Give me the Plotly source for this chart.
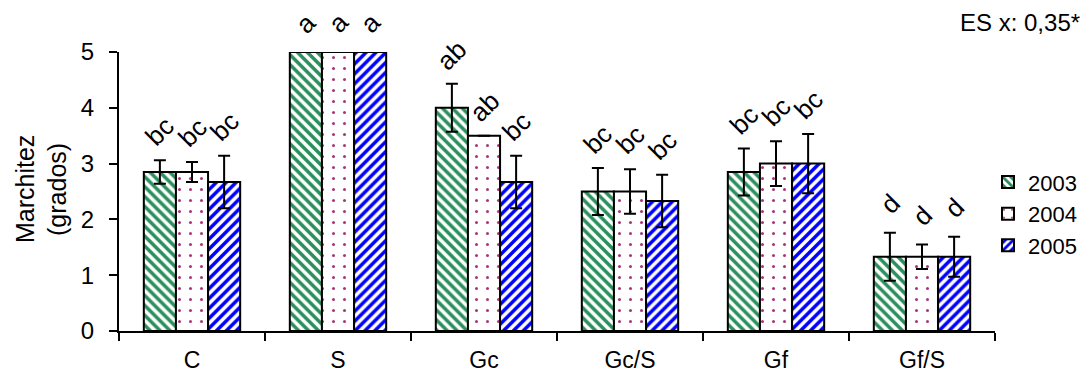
import plotly.graph_objects as go

categories = ["C", "S", "Gc", "Gc/S", "Gf", "Gf/S"]
years = ["2003", "2004", "2005"]
v2003 = [2.85, 5.0, 4.0, 2.5, 2.85, 1.33]
v2004 = [2.85, 5.0, 3.5, 2.5, 3.0, 1.33]
v2005 = [2.67, 5.0, 2.67, 2.33, 3.0, 1.33]
e2003 = [0.21, 0.0, 0.43, 0.42, 0.42, 0.43]
e2004 = [0.18, 0.0, 0.0, 0.40, 0.40, 0.22]
e2005 = [0.47, 0.0, 0.47, 0.47, 0.53, 0.36]
l2003 = ["bc", "a", "ab", "bc", "bc", "d"]
l2004 = ["bc", "a", "ab", "bc", "bc", "d"]
l2005 = ["bc", "a", "bc", "bc", "bc", "d"]
y_ticks = [0, 1, 2, 3, 4, 5]
y_title_lines = ["Marchitez", "(grados)"]
note = "ES x: 0,35*"

values = [v2003, v2004, v2005]
errors = [e2003, e2004, e2005]
labels = [l2003, l2004, l2005]

patterns = [
    dict(shape="\\", fgcolor="#2a8f5c", bgcolor="white", size=7, solidity=0.5, fgopacity=1),
    dict(shape=".", fgcolor="#a8377a", bgcolor="white", size=11, solidity=0.06, fgopacity=1),
    dict(shape="/", fgcolor="#0000ff", bgcolor="white", size=7, solidity=0.5, fgopacity=1),
]

FONT = "Liberation Sans, Arial, sans-serif"
FS = 24

fig = go.Figure()
for i in range(3):
    fig.add_trace(go.Bar(
        name=years[i], x=categories, y=values[i],
        marker=dict(color="white", pattern=patterns[i],
                    line=dict(color="black", width=2)),
        error_y=dict(type="data", array=errors[i], visible=True,
                     color="black", thickness=2, width=6),
    ))

# the page body has an 8px margin; size the figure so nothing overflows
W, H = 1076, 367
ml, mr, mt, mb = 111, 89, 44, 44
plot_w = W - ml - mr
bargap = 0.34
cat_w = plot_w / len(categories)
bar_w = cat_w * (1 - bargap) / 3

annotations = []
for i in range(3):
    for j, c in enumerate(categories):
        annotations.append(dict(
            x=c, y=values[i][j] + errors[i][j], xref="x", yref="y",
            text=labels[i][j], showarrow=False, textangle=-45,
            xshift=(i - 1) * bar_w, yshift=29,
            font=dict(family=FONT, size=26, color="black"),
        ))
annotations.append(dict(
    x=1.0993, y=1.1075, xref="paper", yref="paper", xanchor="right", yanchor="middle",
    text=note, showarrow=False,
    font=dict(family=FONT, size=FS, color="black"),
))
for k, (line, px) in enumerate(zip(y_title_lines, [-0.1073, -0.0708])):
    annotations.append(dict(
        x=px, y=0.509, xref="paper", yref="paper", xanchor="center", yanchor="middle",
        text=line, showarrow=False, textangle=-90,
        font=dict(family=FONT, size=25, color="black"),
    ))

fig.update_layout(
    width=W, height=H, barmode="group", bargap=bargap, bargroupgap=0,
    margin=dict(l=ml, r=mr, t=mt, b=mb, autoexpand=False),
    paper_bgcolor="white", plot_bgcolor="white",
    font=dict(family=FONT, size=FS, color="black"),
    annotations=annotations,
    legend=dict(x=0.992, y=0.42, xanchor="left", yanchor="middle",
                font=dict(size=22), itemwidth=30, tracegroupgap=0,
                bgcolor="rgba(0,0,0,0)"),
    xaxis=dict(showline=True, linecolor="black", linewidth=2,
               ticks="outside", tickson="boundaries", ticklen=8,
               tickcolor="black", tickwidth=2, showgrid=False,
               tickfont=dict(size=23), ticklabelstandoff=7, automargin=False),
    yaxis=dict(range=[0, 5], tickvals=y_ticks, showline=True,
               linecolor="black", linewidth=2, ticks="outside", ticklen=8,
               tickcolor="black", tickwidth=2, showgrid=False, zeroline=False,
               ticklabelstandoff=10, automargin=False),
)
fig.write_html("out.html")
